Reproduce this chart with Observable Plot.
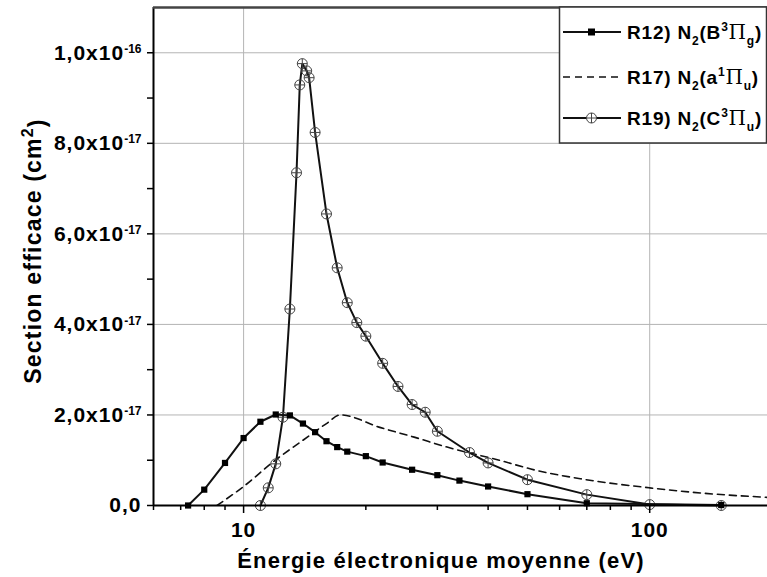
<!DOCTYPE html>
<html>
<head>
<meta charset="utf-8">
<script src="https://cdn.jsdelivr.net/npm/d3@7"></script>
<script src="https://cdn.jsdelivr.net/npm/@observablehq/plot@0.6"></script>
<style>
  html, body { margin: 0; padding: 0; background: #fff; overflow: hidden; }
  #chart svg { display: block; }
</style>
</head>
<body>
<div id="chart"></div>
<script>
// ---- Data (section efficace in units of 1e-17 cm², energy in eV) ----
const r12Energy = [7.3, 8, 9, 10, 11, 12, 13, 14, 15, 16, 17, 18, 20, 22, 26, 30, 34, 40, 50, 70, 150];
const r12Sigma  = [0, 0.35, 0.94, 1.49, 1.85, 2.01, 1.99, 1.81, 1.62, 1.42, 1.29, 1.19, 1.09, 0.95, 0.79, 0.67, 0.55, 0.42, 0.25, 0.05, 0.01];

const r17Energy = [8.6, 10, 12, 14, 16, 17.3, 21.75, 26.3, 31.7, 42.6, 52.9, 67.6, 100, 136, 195];
const r17Sigma  = [0, 0.42, 1.01, 1.44, 1.81, 2.0, 1.72, 1.51, 1.29, 1.0, 0.77, 0.59, 0.39, 0.27, 0.18];

const r19Energy = [11, 11.5, 12, 12.5, 13, 13.5, 13.75, 13.95, 14.3, 14.5, 15, 16, 17, 18, 19, 20, 22, 24, 26, 28, 30, 36, 40, 50, 70, 100, 150];
const r19Sigma  = [0, 0.39, 0.92, 1.95, 4.34, 7.35, 9.29, 9.76, 9.6, 9.45, 8.24, 6.44, 5.25, 4.48, 4.04, 3.74, 3.14, 2.63, 2.23, 2.06, 1.64, 1.17, 0.94, 0.57, 0.24, 0.02, 0];

// ---- Ticks ----
const xMajorTicks = [10, 100];
const xMinorTicks = [6, 7, 8, 9, 20, 30, 40, 50, 60, 70, 80, 90];
const yMajorTicks = [0, 2, 4, 6, 8, 10];
const yMinorTicks = [1, 3, 5, 7, 9];
const yTickMantissa = ["0,0", "2,0", "4,0", "6,0", "8,0", "1,0"];
const yTickExponent = ["", "-17", "-17", "-17", "-17", "-16"];

// ---- Legend ----
const legendKeys = ["R12", "R17", "R19"];
// [state letter, superscript, subscript]
const legendState = [["B", "3", "g"], ["a", "1", "u"], ["C", "3", "u"]];

const toRows = (xs, ys) => xs.map((x, i) => ({energy: x, sigma: ys[i]}));
const r12 = toRows(r12Energy, r12Sigma);
const r17 = toRows(r17Energy, r17Sigma);
const r19 = toRows(r19Energy, r19Sigma);

const circlePlus = {
  draw(ctx, size) {
    const r = Math.sqrt(size / Math.PI);
    ctx.moveTo(r, 0);
    ctx.arc(0, 0, r, 0, 2 * Math.PI);
    ctx.moveTo(-r, 0); ctx.lineTo(r, 0);
    ctx.moveTo(0, -r); ctx.lineTo(0, r);
  }
};

const W = 767, H = 577;
const mL = 153, mT = 7, mR = 0, mB = 72;
const fontFam = "'Liberation Sans', Arial, sans-serif";

const chart = Plot.plot({
  width: W,
  height: H,
  marginLeft: mL,
  marginTop: mT,
  marginRight: mR,
  marginBottom: mB,
  style: {fontFamily: fontFam, fontWeight: "bold", fontSize: "16px", color: "#000", background: "#fff", overflow: "visible"},
  x: {type: "log", domain: [6, 195], label: null},
  y: {domain: [0, 11], label: null},
  marks: [
    Plot.gridX(xMajorTicks, {stroke: "#b4b4b4", strokeOpacity: 1, strokeWidth: 1}),
    Plot.gridY(yMajorTicks.filter(d => d > 0), {stroke: "#b4b4b4", strokeOpacity: 1, strokeWidth: 1}),
    Plot.line(r17, {x: "energy", y: "sigma", stroke: "#111", strokeWidth: 1.6, strokeDasharray: "7,5", curve: "monotone-x", clip: true}),
    Plot.line(r19, {x: "energy", y: "sigma", stroke: "#111", strokeWidth: 2}),
    Plot.dot(r19, {x: "energy", y: "sigma", symbol: circlePlus, r: 5, stroke: "#444", strokeWidth: 1, fill: "none"}),
    Plot.line(r12, {x: "energy", y: "sigma", stroke: "#111", strokeWidth: 2}),
    Plot.dot(r12, {x: "energy", y: "sigma", symbol: "square", r: 3.5, fill: "#000", stroke: "none"}),
    Plot.axisX(xMajorTicks, {tickSize: 8, tickPadding: 9, tickFormat: d => String(d), fontSize: 21, strokeWidth: 1.5}),
    Plot.axisX(xMinorTicks, {tickSize: 5, tickFormat: () => "", strokeWidth: 1.5}),
    Plot.axisY(yMajorTicks, {tickSize: 6, tickPadding: 6, tickFormat: d => String(d), fontSize: 21, strokeWidth: 1.5}),
    Plot.axisY(yMinorTicks, {tickSize: 6, tickFormat: () => "", strokeWidth: 1.5}),
    Plot.ruleY([0], {stroke: "#000", strokeWidth: 2}),
    Plot.ruleX([6], {stroke: "#000", strokeWidth: 2}),
    Plot.ruleY([11], {stroke: "#444", strokeWidth: 2.5})
  ]
});

document.getElementById("chart").appendChild(chart);

const svg = d3.select(chart);

// x tick labels: slight letter spacing
svg.selectAll('g[aria-label="x-axis tick label"] text').attr("letter-spacing", "1px");

// y tick labels with superscript exponent
svg.selectAll('g[aria-label="y-axis tick label"] text').each(function() {
  const s = this.textContent;
  if (s === "") return;
  const i = yMajorTicks.indexOf(+s);
  if (i < 0) return;
  const t = d3.select(this);
  t.text(null).attr("letter-spacing", "1px");
  if (yTickExponent[i] === "") {
    t.append("tspan").text(yTickMantissa[i]);
  } else {
    t.append("tspan").text(yTickMantissa[i] + "x10");
    t.append("tspan").attr("dy", "-0.55em").attr("font-size", "12px").attr("letter-spacing", "0px").text(yTickExponent[i]);
  }
});

// Axis titles
svg.append("text")
  .attr("x", 441).attr("y", 568)
  .attr("text-anchor", "middle")
  .attr("font-family", fontFam).attr("font-weight", "bold").attr("font-size", 22)
  .attr("letter-spacing", "1.2px").attr("fill", "#000")
  .text("Énergie électronique moyenne (eV)");

const yl = svg.append("text")
  .attr("transform", `translate(41,251) rotate(-90)`)
  .attr("text-anchor", "middle")
  .attr("font-family", fontFam).attr("font-weight", "bold").attr("font-size", 23)
  .attr("letter-spacing", "1.2px").attr("fill", "#000");
yl.append("tspan").text("Section efficace (cm");
yl.append("tspan").attr("dy", "-0.5em").attr("font-size", 16).text("2");
yl.append("tspan").attr("dy", "0.5em").text(")");

// Legend
const lg = svg.append("g");
lg.append("rect").attr("x", 559.5).attr("y", 7).attr("width", 207).attr("height", 136)
  .attr("fill", "#fff").attr("stroke", "#333").attr("stroke-width", 1.5);
const rowY = [32, 77, 118];
legendKeys.forEach((k, i) => {
  const y = rowY[i];
  lg.append("line").attr("x1", 563).attr("x2", 621).attr("y1", y).attr("y2", y)
    .attr("stroke", "#111").attr("stroke-width", i === 1 ? 1.6 : 1.8)
    .attr("stroke-dasharray", i === 1 ? "7,5" : null);
  if (i === 0) {
    lg.append("rect").attr("x", 588).attr("y", y - 3.5).attr("width", 7).attr("height", 7).attr("fill", "#000");
  } else if (i === 2) {
    lg.append("path").attr("d", d3.symbol(circlePlus, Math.PI * 25)()).attr("transform", `translate(591.5,${y})`)
      .attr("fill", "#fff").attr("stroke", "#444").attr("stroke-width", 1);
  }
  const t = lg.append("text").attr("x", 627).attr("y", y + 6.5)
    .attr("text-anchor", "start")
    .attr("font-family", fontFam).attr("font-weight", "bold").attr("font-size", 19)
    .attr("letter-spacing", "0.8px").attr("fill", "#000");
  const [letter, sup, sub] = legendState[i];
  t.append("tspan").text(k + ") N");
  t.append("tspan").attr("dy", 6).attr("font-size", 12).text("2");
  t.append("tspan").attr("dy", -6).text("(" + letter);
  t.append("tspan").attr("dy", -8).attr("font-size", 12).text(sup);
  t.append("tspan").attr("dy", 8).attr("font-family", "'DejaVu Serif', 'Liberation Serif', serif").attr("font-weight", "normal").attr("font-size", 20).text("Π");
  t.append("tspan").attr("dy", 6).attr("font-size", 12).text(sub);
  t.append("tspan").attr("dy", -6).text(")");
});
</script>
</body>
</html>
